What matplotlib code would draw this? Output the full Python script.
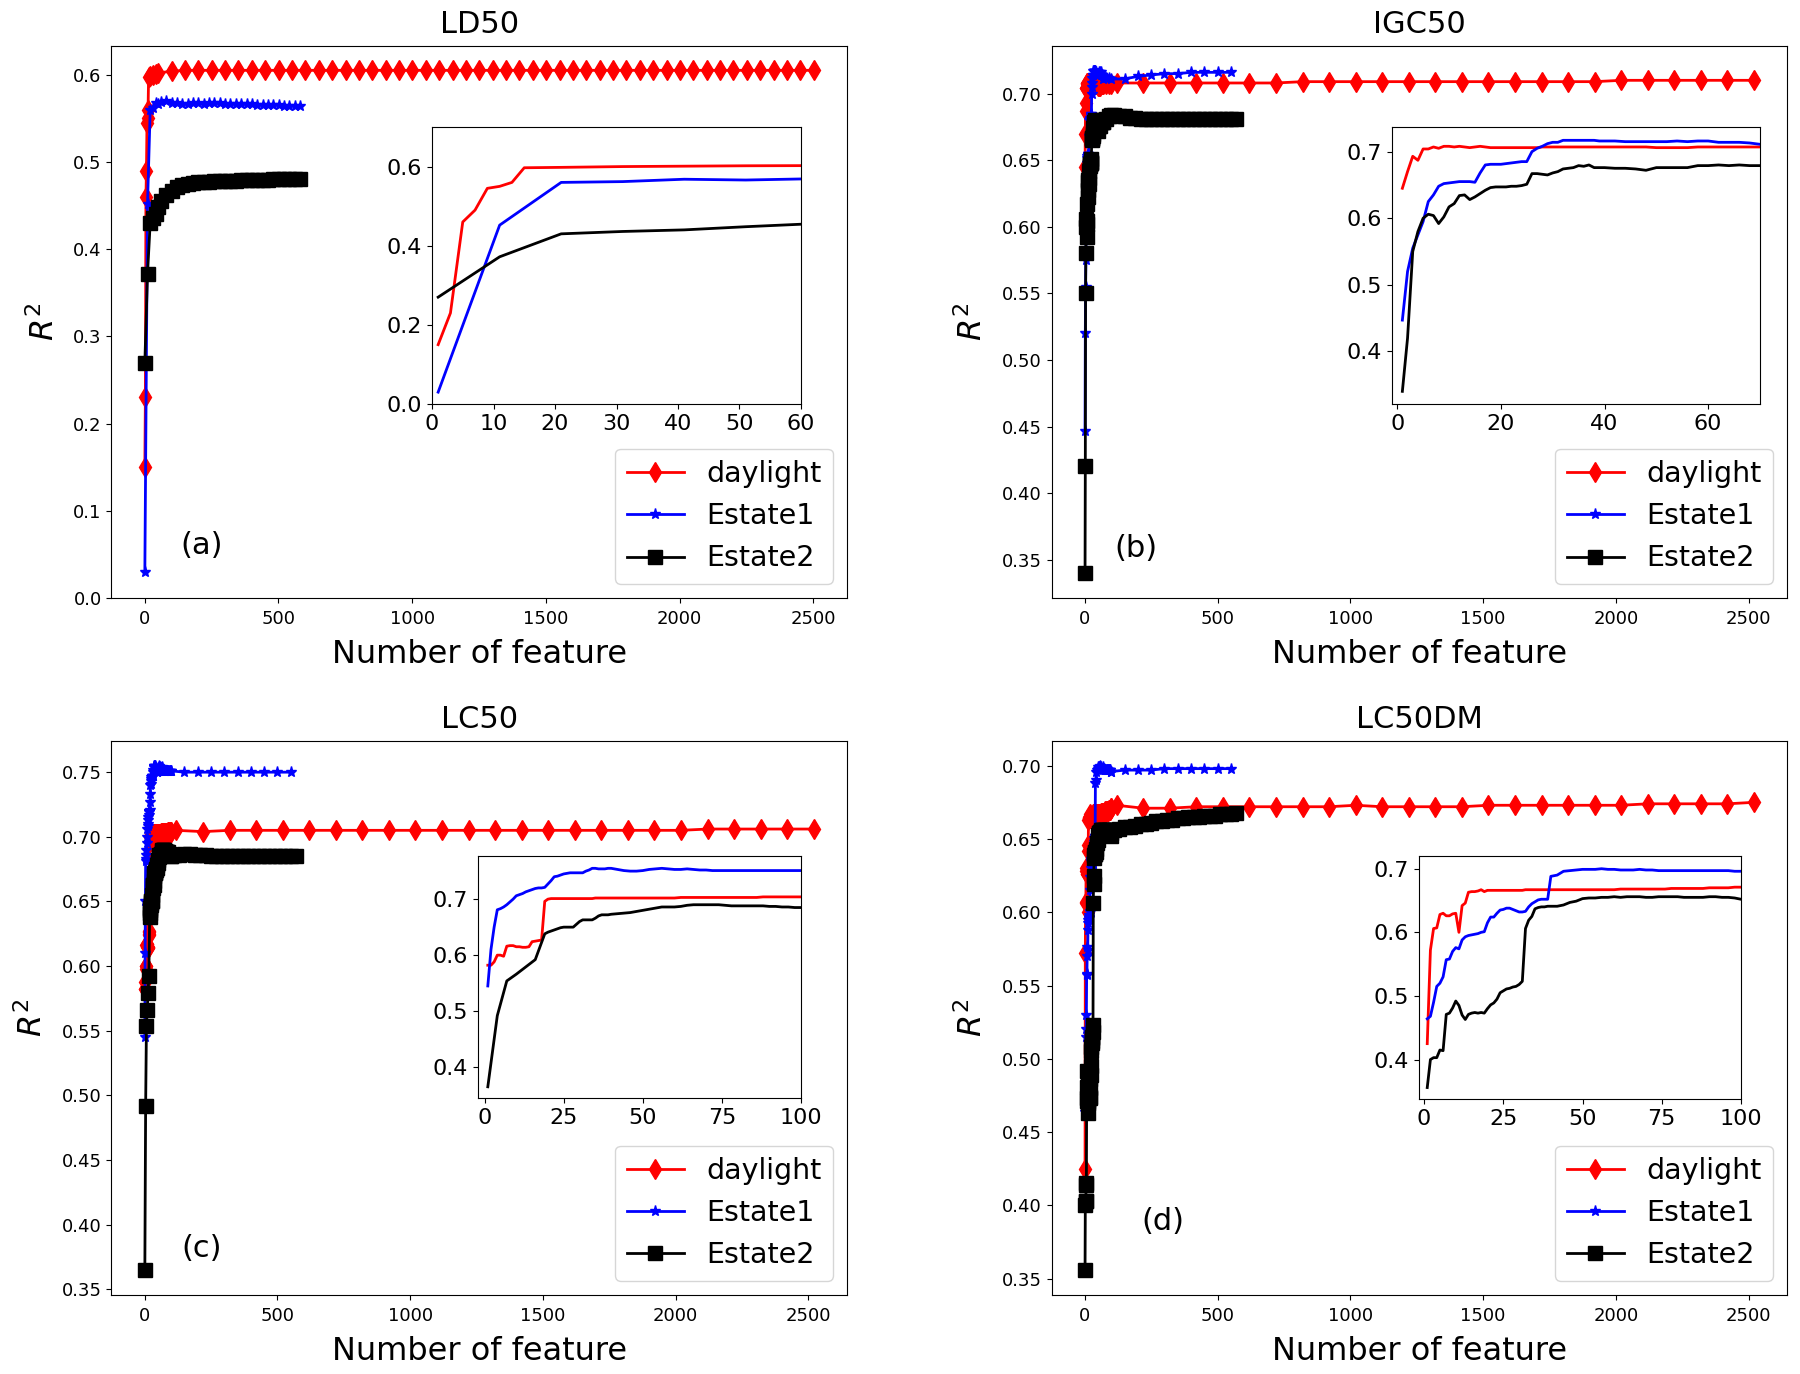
import numpy as np
import matplotlib
matplotlib.use("Agg")
import matplotlib.pyplot as plt

series_names = ["daylight", "Estate1", "Estate2"]
panel_titles = ["LD50", "IGC50", "LC50", "LC50DM"]
panel_tags = ["(a)", "(b)", "(c)", "(d)"]

# ---------------- LD50 ----------------
ld50_x_daylight = [1, 3, 5, 7, 9, 11, 13, 15, 21, 31, 41, 51] + list(range(101, 2502, 50))
ld50_daylight = [0.150, 0.230, 0.460, 0.490, 0.545, 0.550, 0.560, 0.597, 0.598, 0.600, 0.601, 0.602,
                 0.604, 0.605, 0.605, 0.605, 0.605, 0.605, 0.605, 0.605, 0.605, 0.605,
                 0.605, 0.605, 0.605, 0.605, 0.605, 0.605, 0.605, 0.605, 0.605, 0.605,
                 0.605, 0.605, 0.605, 0.605, 0.605, 0.605, 0.605, 0.605, 0.605, 0.605,
                 0.605, 0.605, 0.605, 0.605, 0.605, 0.605, 0.605, 0.605, 0.605, 0.605,
                 0.605, 0.605, 0.605, 0.605, 0.605, 0.605, 0.605, 0.605, 0.605]
ld50_x_estate = [1, 11, 21, 31, 41, 51, 61] + list(range(81, 582, 20))
ld50_estate1 = [0.030, 0.452, 0.560, 0.562, 0.568, 0.566, 0.569,
                0.570, 0.568, 0.567, 0.566, 0.566, 0.567, 0.567, 0.566, 0.567, 0.567,
                0.567, 0.566, 0.566, 0.566, 0.566, 0.566, 0.566, 0.565, 0.565, 0.565,
                0.565, 0.565, 0.564, 0.564, 0.564, 0.564]
ld50_estate2 = [0.270, 0.372, 0.430, 0.436, 0.440, 0.448, 0.455,
                0.462, 0.467, 0.471, 0.473, 0.475, 0.476, 0.477, 0.477, 0.477, 0.478,
                0.478, 0.478, 0.478, 0.478, 0.479, 0.479, 0.479, 0.479, 0.479, 0.479,
                0.480, 0.480, 0.480, 0.480, 0.480, 0.480]

# ---------------- IGC50 ----------------
igc50_x_head = list(range(1, 41)) + list(range(42, 71, 2))
igc50_x_daylight = igc50_x_head + [80, 90, 100] + list(range(120, 2521, 100))
igc50_x_estate1 = igc50_x_head + [80, 90, 100] + list(range(150, 551, 50))
igc50_x_estate2 = igc50_x_head + [80, 90, 100] + list(range(110, 571, 20))
igc50_daylight = [0.645, 0.670, 0.693, 0.687, 0.704, 0.704, 0.707, 0.705, 0.708, 0.708,
                  0.707, 0.708, 0.707, 0.706, 0.707, 0.708, 0.707, 0.706, 0.706, 0.706,
                  0.706, 0.706, 0.706, 0.706, 0.706, 0.706, 0.706, 0.707, 0.707, 0.707,
                  0.707, 0.707, 0.707, 0.707, 0.707, 0.707, 0.707, 0.707, 0.707, 0.707,
                  0.707, 0.707, 0.707, 0.707, 0.706, 0.706, 0.706, 0.706, 0.707, 0.707,
                  0.707, 0.707, 0.707, 0.707, 0.707,
                  0.707, 0.707, 0.707,
                  0.708, 0.708, 0.708, 0.708, 0.708, 0.708, 0.708, 0.709, 0.709, 0.709,
                  0.709, 0.709, 0.709, 0.709, 0.709, 0.709, 0.709, 0.709, 0.709, 0.710,
                  0.710, 0.710, 0.710, 0.710, 0.710]
igc50_estate1 = [0.447, 0.520, 0.555, 0.575, 0.595, 0.625, 0.635, 0.648, 0.652, 0.653,
                 0.654, 0.655, 0.655, 0.655, 0.654, 0.668, 0.680, 0.681, 0.681, 0.681,
                 0.682, 0.683, 0.684, 0.685, 0.685, 0.700, 0.705, 0.708, 0.712, 0.714,
                 0.714, 0.717, 0.717, 0.717, 0.717, 0.717, 0.717, 0.717, 0.716, 0.716,
                 0.716, 0.715, 0.715, 0.715, 0.715, 0.715, 0.716, 0.715, 0.716, 0.716,
                 0.714, 0.714, 0.714, 0.713, 0.711,
                 0.712, 0.712, 0.711,
                 0.711, 0.713, 0.714, 0.715, 0.715, 0.716, 0.716, 0.716, 0.716]
igc50_estate2 = [0.340, 0.420, 0.550, 0.580, 0.600, 0.606, 0.604, 0.592, 0.602, 0.617,
                 0.622, 0.634, 0.635, 0.628, 0.632, 0.637, 0.642, 0.646, 0.647, 0.647,
                 0.647, 0.648, 0.648, 0.649, 0.651, 0.667, 0.667, 0.666, 0.665, 0.668,
                 0.670, 0.674, 0.675, 0.676, 0.679, 0.678, 0.680, 0.676, 0.676, 0.676,
                 0.675, 0.675, 0.674, 0.672, 0.676, 0.676, 0.676, 0.676, 0.679, 0.679,
                 0.680, 0.679, 0.680, 0.679, 0.679,
                 0.681, 0.683, 0.684,
                 0.684, 0.683, 0.683, 0.682, 0.682, 0.681, 0.681, 0.681, 0.681, 0.681,
                 0.681, 0.681, 0.681, 0.681, 0.681, 0.681, 0.681, 0.681, 0.681, 0.681,
                 0.681, 0.681, 0.681, 0.681]

# ---------------- LC50 ----------------
lc50_x_head = list(range(1, 41)) + list(range(42, 101, 2))
lc50_x_daylight = lc50_x_head + list(range(120, 2521, 100))
lc50_x_estate1 = lc50_x_head + list(range(150, 551, 50))
lc50_x_estate2 = [1, 4, 7, 10, 13, 16] + list(range(19, 41)) + list(range(42, 101, 2)) + list(range(110, 571, 20))
lc50_daylight = [0.582, 0.582, 0.588, 0.600, 0.600, 0.598, 0.616, 0.617, 0.617, 0.615,
                 0.615, 0.614, 0.614, 0.615, 0.624, 0.625, 0.626, 0.627, 0.696, 0.700,
                 0.701, 0.701, 0.701, 0.701, 0.701, 0.701, 0.701, 0.701, 0.701, 0.701,
                 0.701, 0.701, 0.701, 0.701, 0.702, 0.702, 0.702, 0.702, 0.702, 0.702,
                 0.702, 0.702, 0.702, 0.702, 0.702, 0.702, 0.702, 0.702, 0.702, 0.702,
                 0.703, 0.703, 0.703, 0.703, 0.703, 0.703, 0.703, 0.703, 0.703, 0.703,
                 0.703, 0.703, 0.703, 0.704, 0.704, 0.704, 0.704, 0.704, 0.704, 0.704,
                 0.705, 0.704, 0.705, 0.705, 0.705, 0.705, 0.705, 0.705, 0.705, 0.705,
                 0.705, 0.705, 0.705, 0.705, 0.705, 0.705, 0.705, 0.705, 0.705, 0.705,
                 0.706, 0.706, 0.706, 0.706, 0.706]
lc50_estate1 = [0.545, 0.610, 0.650, 0.681, 0.683, 0.686, 0.690, 0.695, 0.700, 0.706,
                0.708, 0.710, 0.713, 0.715, 0.717, 0.719, 0.720, 0.720, 0.721, 0.727,
                0.733, 0.740, 0.741, 0.743, 0.745, 0.746, 0.747, 0.747, 0.747, 0.747,
                0.747, 0.750, 0.752, 0.755, 0.755, 0.754, 0.754, 0.754, 0.755, 0.755,
                0.753, 0.751, 0.750, 0.750, 0.751, 0.753, 0.754, 0.755, 0.754, 0.753,
                0.753, 0.754, 0.753, 0.752, 0.752, 0.751, 0.751, 0.751, 0.751, 0.751,
                0.751, 0.751, 0.751, 0.751, 0.751, 0.751, 0.751, 0.751, 0.751, 0.751,
                0.750, 0.750, 0.750, 0.750, 0.750, 0.750, 0.750, 0.750, 0.750]
lc50_estate2 = [0.365, 0.492, 0.554, 0.566, 0.579, 0.592,
                0.638, 0.641,
                0.643, 0.645, 0.647, 0.649, 0.650, 0.650, 0.650, 0.650, 0.655, 0.660,
                0.663, 0.663, 0.663, 0.663, 0.666, 0.670, 0.672, 0.672, 0.672, 0.673,
                0.674, 0.675, 0.676, 0.678, 0.680, 0.682, 0.684, 0.686, 0.686, 0.686,
                0.687, 0.689, 0.690, 0.690, 0.690, 0.690, 0.690, 0.689, 0.688, 0.688,
                0.688, 0.688, 0.688, 0.688, 0.687, 0.687, 0.686, 0.686, 0.685, 0.685,
                0.686, 0.686, 0.687, 0.687, 0.686, 0.686, 0.686, 0.685, 0.685, 0.685,
                0.685, 0.685, 0.685, 0.685, 0.685, 0.685, 0.685, 0.685, 0.685, 0.685,
                0.685, 0.685, 0.685, 0.685]

# ---------------- LC50DM ----------------
lc50dm_x_head = list(range(1, 41)) + list(range(42, 101, 2))
lc50dm_x_daylight = lc50dm_x_head + list(range(120, 2521, 100))
lc50dm_x_estate1 = lc50dm_x_head + list(range(150, 551, 50))
lc50dm_x_estate2 = lc50dm_x_head + list(range(110, 571, 20))
lc50dm_daylight = [0.425, 0.572, 0.606, 0.607, 0.628, 0.630, 0.626, 0.626, 0.629, 0.630,
                   0.600, 0.642, 0.646, 0.663, 0.664, 0.664, 0.665, 0.667, 0.664, 0.666,
                   0.666, 0.666, 0.666, 0.666, 0.666, 0.666, 0.666, 0.666, 0.666, 0.666,
                   0.666, 0.667, 0.667, 0.667, 0.667, 0.667, 0.667, 0.667, 0.667, 0.667,
                   0.667, 0.667, 0.667, 0.667, 0.667, 0.667, 0.667, 0.667, 0.667, 0.667,
                   0.668, 0.668, 0.668, 0.668, 0.668, 0.668, 0.668, 0.668, 0.669, 0.669,
                   0.669, 0.669, 0.669, 0.669, 0.670, 0.670, 0.670, 0.670, 0.671, 0.671,
                   0.673, 0.671, 0.671, 0.672, 0.672, 0.672, 0.672, 0.672, 0.672, 0.673,
                   0.672, 0.672, 0.672, 0.672, 0.673, 0.673, 0.673, 0.673, 0.673, 0.673,
                   0.674, 0.674, 0.674, 0.674, 0.675]
lc50dm_estate1 = [0.464, 0.468, 0.490, 0.515, 0.520, 0.530, 0.557, 0.558, 0.570, 0.576,
                  0.574, 0.588, 0.593, 0.595, 0.596, 0.597, 0.598, 0.600, 0.601, 0.615,
                  0.624, 0.624, 0.630, 0.635, 0.636, 0.638, 0.638, 0.636, 0.634, 0.632,
                  0.632, 0.633, 0.640, 0.645, 0.648, 0.651, 0.652, 0.652, 0.652, 0.688,
                  0.690, 0.696, 0.697, 0.698, 0.699, 0.699, 0.699, 0.700, 0.699, 0.699,
                  0.698, 0.698, 0.698, 0.699, 0.698, 0.698, 0.697, 0.697, 0.697, 0.697,
                  0.697, 0.697, 0.697, 0.697, 0.697, 0.697, 0.697, 0.697, 0.696, 0.696,
                  0.697, 0.697, 0.697, 0.698, 0.698, 0.698, 0.698, 0.698, 0.698]
lc50dm_estate2 = [0.356, 0.400, 0.403, 0.403, 0.415, 0.414, 0.471, 0.473, 0.481, 0.492,
                  0.485, 0.470, 0.463, 0.471, 0.473, 0.474, 0.473, 0.474, 0.473, 0.480,
                  0.486, 0.489, 0.495, 0.505, 0.508, 0.511, 0.512, 0.514, 0.515, 0.518,
                  0.523, 0.606, 0.619, 0.625, 0.637, 0.639, 0.640, 0.640, 0.641, 0.641,
                  0.641, 0.643, 0.647, 0.649, 0.653, 0.654, 0.654, 0.655, 0.655, 0.656,
                  0.655, 0.656, 0.656, 0.656, 0.655, 0.655, 0.656, 0.656, 0.656, 0.656,
                  0.655, 0.655, 0.655, 0.655, 0.656, 0.656, 0.655, 0.655, 0.654, 0.652,
                  0.656, 0.657, 0.658, 0.658, 0.659, 0.660, 0.660, 0.661, 0.662, 0.662,
                  0.663, 0.663, 0.664, 0.664, 0.665, 0.665, 0.665, 0.666, 0.666, 0.666,
                  0.667, 0.667, 0.667, 0.668]

panels = [
    dict(x=[ld50_x_daylight, ld50_x_estate, ld50_x_estate],
         y=[ld50_daylight, ld50_estate1, ld50_estate2],
         main_ylim=(0.0, 0.633),
         inset_xlim=(0, 60), inset_ylim=(0.0, 0.7),
         inset_xticks=[0, 10, 20, 30, 40, 50, 60], inset_yticks=[0.0, 0.2, 0.4, 0.6]),
    dict(x=[igc50_x_daylight, igc50_x_estate1, igc50_x_estate2],
         y=[igc50_daylight, igc50_estate1, igc50_estate2],
         main_ylim=None,
         inset_xlim=(-1, 70), inset_ylim=(0.321, 0.737),
         inset_xticks=[0, 20, 40, 60], inset_yticks=[0.4, 0.5, 0.6, 0.7]),
    dict(x=[lc50_x_daylight, lc50_x_estate1, lc50_x_estate2],
         y=[lc50_daylight, lc50_estate1, lc50_estate2],
         main_ylim=None,
         inset_xlim=(-2.1, 100), inset_ylim=(0.345, 0.777),
         inset_xticks=[0, 25, 50, 75, 100], inset_yticks=[0.4, 0.5, 0.6, 0.7]),
    dict(x=[lc50dm_x_daylight, lc50dm_x_estate1, lc50dm_x_estate2],
         y=[lc50dm_daylight, lc50dm_estate1, lc50dm_estate2],
         main_ylim=None,
         inset_xlim=(-1.6, 100), inset_ylim=(0.338, 0.72),
         inset_xticks=[0, 25, 50, 75, 100], inset_yticks=[0.4, 0.5, 0.6, 0.7]),
]

for p in panels:
    for xx, yy in zip(p["x"], p["y"]):
        assert len(xx) == len(yy), (len(xx), len(yy))

colors = ["#ff0000", "#0000ff", "#000000"]
markers = ["d", "*", "s"]
msizes = [10, 8, 10.5]

W, H = 1800, 1374
fig = plt.figure(figsize=(W / 100, H / 100), dpi=100)

def fr(l, t, r, b):
    return [l / W, 1 - b / H, (r - l) / W, (b - t) / H]

main_boxes = [fr(111.4, 45.9, 847.2, 598.1), fr(1051.6, 45.9, 1787.4, 598.1),
              fr(111.4, 740.5, 847.2, 1295), fr(1051.6, 740.5, 1787.4, 1295)]
inset_boxes = [fr(432, 127, 801, 404), fr(1392, 127, 1760, 404),
               fr(478, 856, 801, 1098), fr(1419, 856, 1741, 1099)]
tag_pos = [(0.122, 0.096), (0.115, 0.089), (0.122, 0.083), (0.151, 0.133)]

for i, p in enumerate(panels):
    ax = fig.add_axes(main_boxes[i])
    for k in range(3):
        ax.plot(p["x"][k], p["y"][k], color=colors[k], marker=markers[k],
                ms=msizes[k], lw=2, label=series_names[k])
    if p["main_ylim"] is not None:
        ax.set_ylim(*p["main_ylim"])
    ax.set_title(panel_titles[i], fontsize=22, pad=9)
    ax.set_xlabel("Number of feature", fontsize=23, labelpad=8)
    ax.set_ylabel("$R^2$", fontsize=23, labelpad=9)
    ax.set_xticks([0, 500, 1000, 1500, 2000, 2500])
    ax.tick_params(labelsize=13)
    ax.tick_params(axis="x", pad=5)
    ax.text(tag_pos[i][0], tag_pos[i][1], panel_tags[i], transform=ax.transAxes,
            fontsize=22, ha="center", va="center")
    ax.legend(loc="lower right", fontsize=20.5)

    ins = fig.add_axes(inset_boxes[i])
    for k in range(3):
        ins.plot(p["x"][k], p["y"][k], color=colors[k], lw=2)
    ins.set_xlim(*p["inset_xlim"])
    ins.set_ylim(*p["inset_ylim"])
    ins.set_xticks(p["inset_xticks"])
    ins.set_yticks(p["inset_yticks"])
    ins.tick_params(labelsize=16)

fig.savefig("out.png", dpi=100)
